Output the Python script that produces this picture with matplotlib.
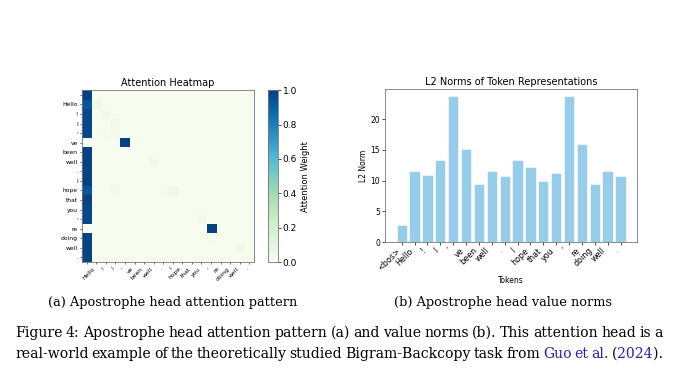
import numpy as np
import matplotlib
matplotlib.use("Agg")
import matplotlib.pyplot as plt

# tokens
heat_tokens = ["", "Hello", "!", "I", "'", "ve", "been", "well", ".", "I",
               "hope", "that", "you", "'", "re", "doing", "well", "."]
bar_tokens = ["<bos>", "Hello", "!", "I", "'", "ve", "been", "well", ".", "I",
              "hope", "that", "you", "'", "re", "doing", "well", "."]

# attention weight on the first token, per row
bos_attn = [1.0, 0.93, 0.97, 0.98, 0.97, 0.0, 0.99, 0.99, 0.99, 0.99,
            0.93, 0.99, 0.98, 0.97, 0.0, 0.99, 0.99, 0.99]
# other visible entries (row, col, weight)
extra_attn = [(1, 1, 0.04), (2, 2, 0.02), (3, 3, 0.02), (4, 2, 0.01), (4, 3, 0.02),
              (5, 4, 1.0), (7, 7, 0.02), (10, 3, 0.02), (10, 8, 0.01), (10, 9, 0.04),
              (12, 12, 0.01), (13, 12, 0.02), (14, 13, 1.0), (15, 13, 0.01),
              (16, 16, 0.02)]

# L2 norms
norms = [2.8, 11.6, 10.9, 13.3, 23.7, 15.2, 9.5, 11.5, 10.8, 13.3,
         12.2, 10.0, 11.3, 23.7, 15.9, 9.5, 11.5, 10.8]

n = len(heat_tokens)
attn = np.zeros((n, n))
attn[:, 0] = bos_attn
for r, c, v in extra_attn:
    attn[r, c] = v

fig = plt.figure(figsize=(6.78, 3.81), dpi=100)
fig.patch.set_facecolor("white")

# (a) heatmap
ax1 = fig.add_axes([0.121, 0.312, 0.2537, 0.4514])
im = ax1.imshow(attn, cmap="GnBu", vmin=0, vmax=1, aspect="auto",
                interpolation="nearest")
ax1.set_xticks(range(n))
ax1.set_yticks(range(n))
ax1.set_xticklabels(heat_tokens, rotation=45, ha="right", fontsize=4.3)
ax1.set_yticklabels(heat_tokens, fontsize=4.3)
ax1.tick_params(length=1.5, width=0.4, pad=1.5)
ax1.set_title("Attention Heatmap", fontsize=7, pad=3)
for s in ax1.spines.values():
    s.set_color("#777777")
    s.set_linewidth(0.6)

cax = fig.add_axes([0.395, 0.312, 0.0147, 0.4514])
cb = fig.colorbar(im, cax=cax)
cb.set_ticks([0, 0.2, 0.4, 0.6, 0.8, 1.0])
cb.ax.tick_params(labelsize=6.5, length=2, width=0.5, pad=1.5)
cb.set_label("Attention Weight", fontsize=6, labelpad=3)
cb.outline.set_edgecolor("#777777")
cb.outline.set_linewidth(0.6)

# (b) bar chart
ax2 = fig.add_axes([0.568, 0.3648, 0.3717, 0.4016])
ax2.bar(range(len(norms)), norms, color="#97cde9", width=0.8,
        edgecolor="white", linewidth=0.4)
ax2.set_xticks(range(len(norms)))
ax2.set_xticklabels(bar_tokens, rotation=45, ha="right", fontsize=5.8)
ax2.set_yticks([0, 5, 10, 15, 20])
ax2.tick_params(axis="y", labelsize=5.5, length=2, width=0.5, pad=1.5)
ax2.tick_params(axis="x", length=2, width=0.5, pad=1)
ax2.set_ylabel("L2 Norm", fontsize=5.5, labelpad=2)
ax2.set_xlabel("Tokens", fontsize=5.5, labelpad=3)
ax2.set_title("L2 Norms of Token Representations", fontsize=7, pad=3)
for s in ax2.spines.values():
    s.set_color("#777777")
    s.set_linewidth(0.6)

# captions
serif = "DejaVu Serif"
W, H = 678, 381
link = "#2222aa"
sub_a = "(a) Apostrophe head attention pattern"
sub_b = "(b) Apostrophe head value norms"
line1 = "Figure 4: Apostrophe head attention pattern (a) and value norms (b). This attention head is a"
line1_words = [[(w, "black")] for w in line1.split(" ")]
line2_words = [[(w, "black")] for w in
               "real-world example of the theoretically studied Bigram-Backcopy task from".split(" ")]
line2_words += [[("Guo", link)], [("et", link)], [("al.", link)],
                [("(", "black"), ("2024", link), (").", "black")]]

renderer = fig.canvas.get_renderer()


def text_width(txt, size):
    t = fig.text(0, 0, txt, fontsize=size, family=serif)
    w = t.get_window_extent(renderer).width
    t.remove()
    return w


def words_width(words, size):
    return sum(text_width(txt, size) for word in words for txt, col in word)


# tight word spacing like the typeset caption
left, right, min_gap = 15, 663, 3.0
s1 = 10 * (right - left - min_gap * (len(line1_words) - 1)) / words_width(line1_words, 10)
s2 = 10 * (right - left - min_gap * (len(line2_words) - 1)) / words_width(line2_words, 10)
cap_size = min(s1, s2)
sub_size = cap_size * 0.92


def justified(words, y):
    # place words so the line fills left..right
    widths = [sum(text_width(txt, cap_size) for txt, col in word) for word in words]
    gap = (right - left - sum(widths)) / (len(words) - 1)
    x = left
    for word, w in zip(words, widths):
        xx = x
        for txt, col in word:
            fig.text(xx / W, 1 - y / H, txt, fontsize=cap_size, family=serif,
                     color=col, ha="left", va="baseline")
            xx += text_width(txt, cap_size)
        x += w + gap


fig.text(173 / W, 1 - 306 / H, sub_a, fontsize=sub_size, family=serif,
         ha="center", va="baseline")
fig.text(503 / W, 1 - 306 / H, sub_b, fontsize=sub_size, family=serif,
         ha="center", va="baseline")
justified(line1_words, 337)
justified(line2_words, 358)

fig.savefig("out.png", dpi=100)
